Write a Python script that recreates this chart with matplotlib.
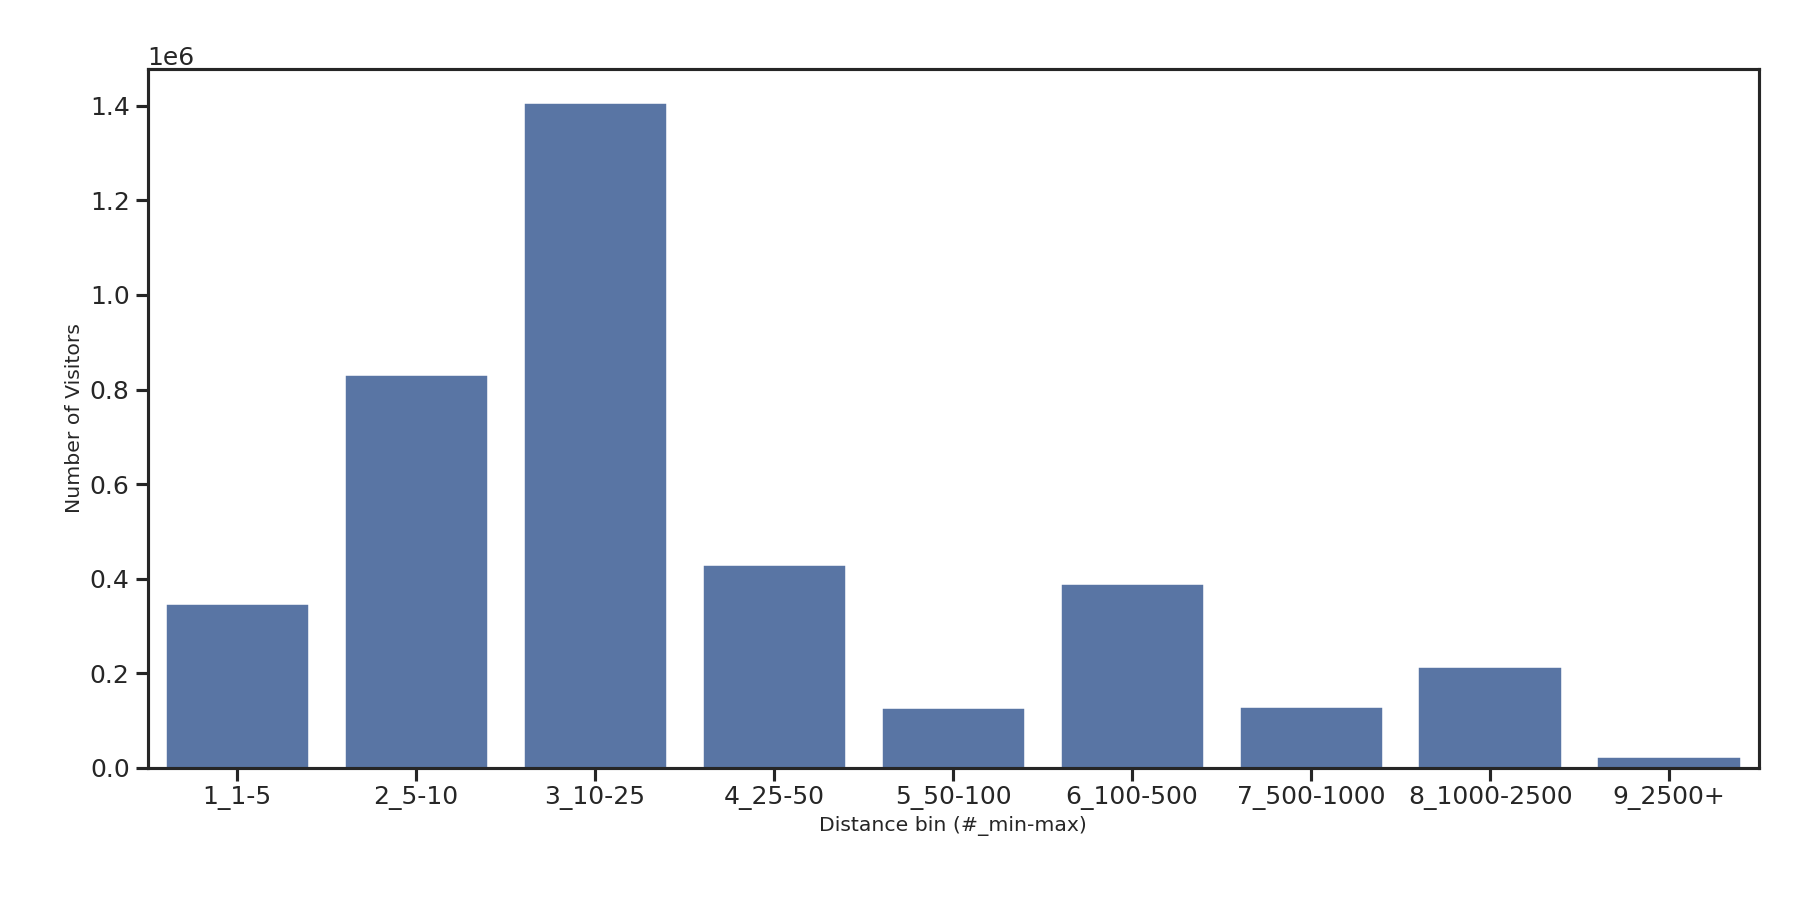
import matplotlib
matplotlib.use("Agg")
import matplotlib.pyplot as plt
import seaborn as sns

categories = ["1_1-5", "2_5-10", "3_10-25", "4_25-50", "5_50-100", "6_100-500", "7_500-1000", "8_1000-2500", "9_2500+"]
visitors = [346000, 830000, 1407000, 429000, 127000, 388000, 129000, 214000, 22000]

sns.set_theme(style="ticks")
plt.rcParams['font.family'] = ['DejaVu Sans']
fig = plt.figure(figsize=(16, 8), dpi=112.5)
ax = fig.add_axes([0.082, 0.147, 0.895, 0.776])
sns.barplot(x=categories, y=visitors, color="#4c72b0", ax=ax, saturation=0.75)
ax.set_xlabel("Distance bin (#_min-max)", fontsize=13)
ax.set_ylabel("Number of Visitors", fontsize=13)
ax.tick_params(axis='both', labelsize=16, width=2, length=8)
ax.yaxis.get_offset_text().set_fontsize(16)
for s in ax.spines.values():
    s.set_linewidth(2)
    s.set_color("#262626")
fig.savefig("out.png")
